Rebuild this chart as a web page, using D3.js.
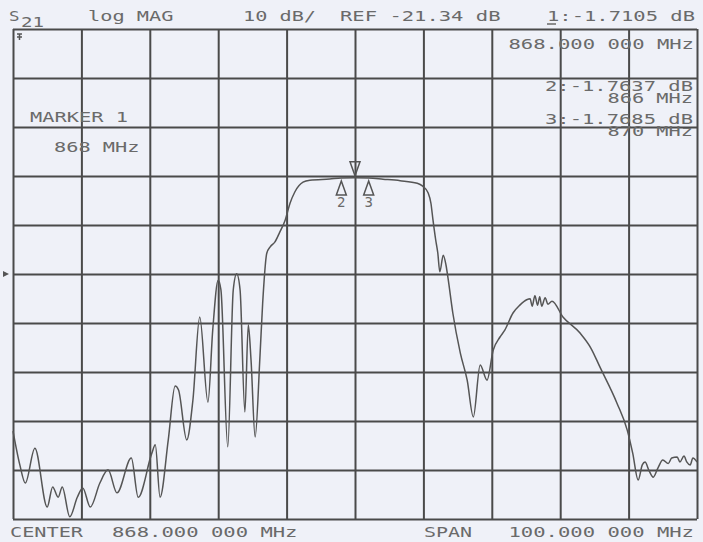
<!DOCTYPE html>
<html>
<head>
<meta charset="utf-8">
<style>
body { margin:0; background:#eff1f8; }
text { font-family:"DejaVu Sans Mono", monospace; font-size:14px; fill:#6a6a6a; }
</style>
</head>
<body>
<div id="chart"></div>
<script src="https://d3js.org/d3.v7.min.js"></script>
<script>

// S21 trace, frequency in MHz and magnitude in dB
var freq = [818.0,819.0,819.8,821.2,823.0,823.8,824.6,825.2,826.3,827.4,828.2,829.3,830.7,831.9,833.2,835.3,836.3,838.3,838.8,839.5,
            840.7,841.7,842.2,843.4,844.3,845.3,846.5,847.2,848.0,848.4,849.4,850.2,850.7,851.2,851.9,852.4,852.8,853.4,854.1,854.5,
            855.1,855.6,856.3,857.0,857.8,858.5,859.2,860.4,861.4,864.3,866.0,868.0,870.0,872.1,874.6,877.1,877.9,878.7,879.1,879.4,
            879.8,880.1,880.4,880.9,881.3,881.6,882.3,883.4,884.4,885.3,886.3,887.3,888.2,889.2,889.9,891.1,892.1,893.1,893.6,893.9,
            894.3,894.7,895.0,895.3,895.8,896.2,896.8,898.4,900.9,902.5,903.8,906.3,907.8,908.6,909.4,910.0,910.4,911.0,911.6,912.3,
            913.0,913.8,914.3,915.1,915.5,916.1,916.5,917.0,917.4,918.0];
var s21 = [-53.4,-60.3,-64.0,-56.9,-68.9,-64.8,-66.9,-64.8,-70.9,-66.9,-65.0,-68.9,-64.0,-61.3,-66.0,-58.9,-66.9,-57.9,-56.2,-66.9,
           -55.2,-44.2,-45.0,-55.2,-47.1,-30.1,-47.5,-32.8,-22.6,-24.6,-56.6,-24.6,-21.3,-24.6,-49.5,-31.7,-38.9,-54.6,-38.3,-27.3,
           -17.1,-15.8,-14.8,-12.8,-10.3,-6.9,-4.6,-2.6,-2.2,-1.95,-1.76,-1.71,-1.77,-2.0,-2.3,-2.8,-3.4,-4.8,-6.9,-10.3,
           -14.4,-17.0,-20.9,-17.5,-19.5,-22.2,-29.3,-37.5,-43.0,-50.5,-39.9,-43.0,-36.9,-34.2,-32.8,-29.3,-27.7,-26.6,-26.4,-27.9,
           -25.8,-27.7,-26.0,-27.9,-26.2,-27.5,-26.9,-30.1,-33.4,-36.5,-40.3,-47.7,-53.2,-57.9,-63.4,-60.3,-59.7,-61.5,-62.8,-60.9,
           -59.3,-60.0,-58.9,-58.7,-59.7,-58.5,-59.7,-60.3,-58.9,-59.7];

// markers
var mkNum  = [1, 2, 3];
var mkFreq = [868, 866, 870];
var mkVal  = [-1.7105, -1.7637, -1.7685];

var center = 868, span = 100, refLevel = -21.34, perDiv = 10;

var W = 703, H = 542;
var plotL = 13, plotR = 697, plotT = 29, plotB = 519;
var pitch = 12.5;   // character cell of the analyzer font

var svg = d3.select("#chart").append("svg")
    .attr("width", W)
    .attr("height", H);

var x = d3.scaleLinear()
    .domain([center - span/2, center + span/2])
    .range([plotL, plotR]);

var y = d3.scaleLinear()
    .domain([refLevel - 5*perDiv, refLevel + 5*perDiv])
    .range([plotB, plotT]);

// grid
svg.append("g")
   .attr("transform", "translate(0," + plotB + ")")
   .call(d3.axisBottom(x).tickValues(d3.range(0, 11).map(i => center - span/2 + i*span/10))
         .tickSize(-(plotB - plotT)).tickFormat(""))
   .call(g => g.select(".domain").remove())
   .selectAll("line").attr("stroke", "#4a4a4a").attr("stroke-width", 2);

svg.append("g")
   .attr("transform", "translate(" + plotL + ",0)")
   .call(d3.axisLeft(y).tickValues(d3.range(0, 11).map(i => refLevel - 5*perDiv + i*perDiv))
         .tickSize(-(plotR - plotL)).tickFormat(""))
   .call(g => g.select(".domain").remove())
   .selectAll("line").attr("stroke", "#4a4a4a").attr("stroke-width", 2);

// trace
var line = d3.line().curve(d3.curveMonotoneX).x(d => x(d[0])).y(d => y(d[1]));
svg.append("path")
   .datum(d3.zip(freq, s21))
   .attr("d", line)
   .attr("fill", "none")
   .attr("stroke", "#555")
   .attr("stroke-width", 1.5)
   .attr("stroke-linejoin", "round");

// marker 1 (pointing down, above trace)
var m1x = x(mkFreq[0]), m1y = y(mkVal[0]);
svg.append("path")
   .attr("d", "M" + (m1x-5) + "," + (m1y-16) + " L" + (m1x+5) + "," + (m1y-16) + " L" + m1x + "," + (m1y-2) + " Z")
   .attr("fill", "none").attr("stroke", "#555").attr("stroke-width", 1.5);

// markers 2 and 3 (pointing up, below trace)
for (var i = 1; i < 3; i++) {
  var mx = x(mkFreq[i]), my = y(mkVal[i]);
  svg.append("path")
     .attr("d", "M" + mx + "," + (my+3) + " L" + (mx+5) + "," + (my+17) + " L" + (mx-5) + "," + (my+17) + " Z")
     .attr("fill", "none").attr("stroke", "#555").attr("stroke-width", 1.5);
  svg.append("text")
     .attr("x", mx).attr("y", my + 29)
     .attr("text-anchor", "middle")
     .text(mkNum[i]);
}

// reference position arrow on the left edge
svg.append("path")
   .attr("d", "M3," + (y(refLevel)-3) + " L9," + y(refLevel) + " L3," + (y(refLevel)+3) + " Z")
   .attr("fill", "#555");

// little symbol in the top-left corner
svg.append("path")
   .attr("d", "M17,34 L22,34 M19.5,34 L19.5,40 M17,37 L22,37")
   .attr("stroke", "#555").attr("stroke-width", 1.5);

function label(str, x0, yb, alignRight) {
  var w = str.length * pitch - 2;
  var xs = alignRight ? x0 - w : x0;
  return svg.append("text")
     .attr("x", xs).attr("y", yb)
     .attr("textLength", w)
     .attr("lengthAdjust", "spacingAndGlyphs")
     .text(str);
}

// header
label("S", 9, 21);
label("21", 21, 27);
label("log MAG", 88, 21);
label("10 dB/", 243, 21);
label("REF " + refLevel.toFixed(2) + " dB", 340, 21);
label("1:" + mkVal[0].toFixed(4) + " dB", 695, 21, true);
svg.append("line")
   .attr("x1", 695 - 12*pitch + 2).attr("x2", 695 - 12*pitch + 11)
   .attr("y1", 24).attr("y2", 24)
   .attr("stroke", "#6a6a6a").attr("stroke-width", 1.5);

label(mkFreq[0].toFixed(0) + ".000 000 MHz", 694, 49, true);

// marker readouts (the analyzer prints these partly over each other)
label("2:" + mkVal[1].toFixed(4) + " dB", 693, 91, true);
label(mkFreq[1] + " MHz", 693, 103, true);
label("3:" + mkVal[2].toFixed(4) + " dB", 693, 124, true);
label(mkFreq[2] + " MHz", 693, 136, true);

label("MARKER 1", 30, 122);
label(mkFreq[0] + " MHz", 54, 152);

// footer
label("CENTER", 10, 537);
label(center.toFixed(0) + ".000 000 MHz", 112, 537);
label("SPAN", 424, 537);
label(span.toFixed(0) + ".000 000 MHz", 694, 537, true);

</script>
</body>
</html>
